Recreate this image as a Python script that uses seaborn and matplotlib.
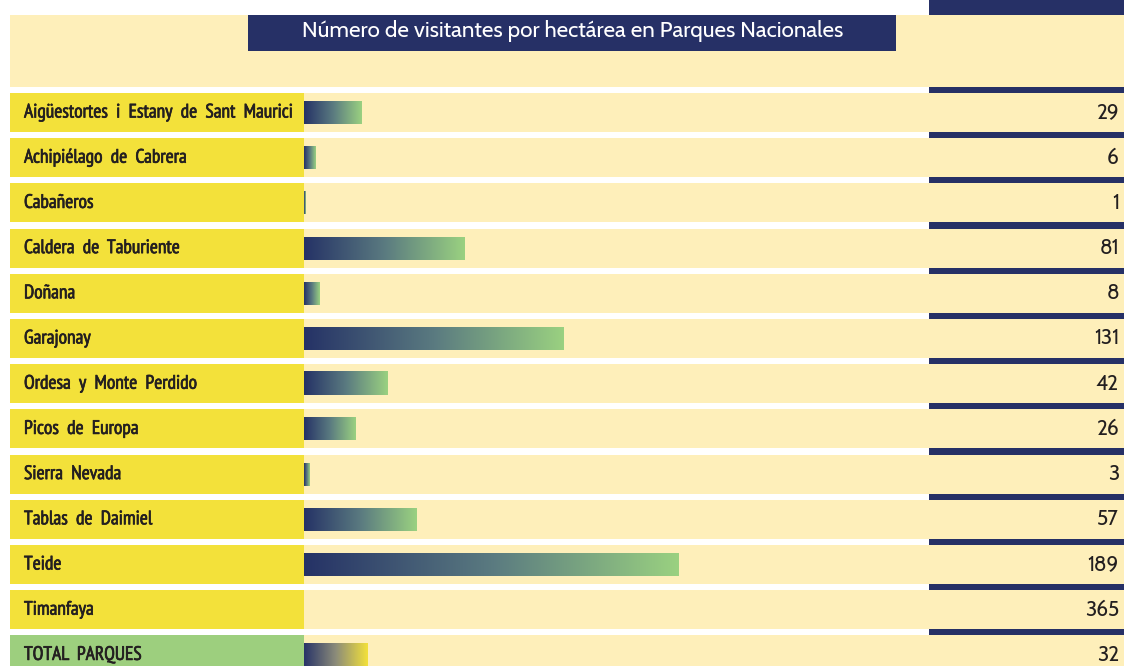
import numpy as np
import pandas as pd
import matplotlib
matplotlib.use("Agg")
import matplotlib.pyplot as plt
import matplotlib.patheffects as pe
import seaborn as sns
from matplotlib.colors import LinearSegmentedColormap
from matplotlib.patches import Rectangle
from matplotlib import font_manager

# ---- data ----
parques = [
    "Aigüestortes i Estany de Sant Maurici",
    "Achipiélago de Cabrera",
    "Cabañeros",
    "Caldera de Taburiente",
    "Doñana",
    "Garajonay",
    "Ordesa y Monte Perdido",
    "Picos de Europa",
    "Sierra Nevada",
    "Tablas de Daimiel",
    "Teide",
    "Timanfaya",
    "TOTAL PARQUES",
]
visitantes_ha = [29, 6, 1, 81, 8, 131, 42, 26, 3, 57, 189, 365, 32]
con_barra = [True] * 11 + [False, True]
titulo = "Número de visitantes por hectárea en Parques Nacionales"

# ---- styling ----
CREMA = "#FEEFBA"
AMARILLO = "#F3E13A"
VERDE_TOTAL = "#9DCF7E"
AZUL = "#263066"
TEXTO = "#231F20"
grad_parque = LinearSegmentedColormap.from_list("parque", ["#253266", "#5A7A80", "#9AD181"])
grad_total = LinearSegmentedColormap.from_list("total", ["#283468", "#8C8C7A", "#F3E13A"])

sns.set_style("white")
names = {f.name for f in font_manager.fontManager.ttflist}


def pick(*cands):
    for c in cands:
        if c in names:
            return c
    return "DejaVu Sans"


label_family = pick("PT Sans Narrow", "Cabin Condensed", "Liberation Sans Narrow")
num_family = pick("Cabin", "Lato")
plt.rcParams["font.family"] = [num_family, "DejaVu Sans"]

W, H = 1124, 666
fig = plt.figure(figsize=(W / 100, H / 100), dpi=100)
fig.patch.set_facecolor("white")
ax = fig.add_axes([0, 0, 1, 1])

# layout: bars start at pixel 304, ~2 px per visitor/ha; rows every 45.2 px
X0, SX = 304.0, 1.98
ROW0, PITCH = 112.5, 45.2


def X(px):
    return (px - X0) / SX


def Y(py):
    return (py - ROW0) / PITCH


df = pd.DataFrame({
    "parque": parques,
    "valor": visitantes_ha,
    "barra": [v if b else np.nan for v, b in zip(visitantes_ha, con_barra)],
})

sns.barplot(data=df, x="barra", y="parque", order=parques, orient="h",
            width=23 / PITCH, color=AZUL, errorbar=None, ax=ax, zorder=3)


def rect(x0, x1, y0, y1, color, z):
    ax.add_patch(Rectangle((X(x0), Y(y0)), X(x1) - X(x0), Y(y1) - Y(y0),
                           facecolor=color, edgecolor="none", zorder=z))


# navy strip on the right, cream header with the title box
rect(929, W, 0, H, AZUL, 0)
rect(10, W, 15, 87, CREMA, 1)
rect(248, 896, 15, 51, AZUL, 2)
ax.text(X(572.5), Y(37), titulo, color="white", fontsize=16.1,
        ha="center", va="baseline", family=[num_family, "DejaVu Sans"], zorder=4)

# row bands, label boxes, names and values
half = 19.5 / PITCH
grueso = [pe.withStroke(linewidth=0.5, foreground=TEXTO)]
for i, nombre in enumerate(parques):
    ax.add_patch(Rectangle((X(10), i - half), X(W) - X(10), 2 * half,
                           facecolor=CREMA, edgecolor="none", zorder=1))
    caja = VERDE_TOTAL if nombre == "TOTAL PARQUES" else AMARILLO
    ax.add_patch(Rectangle((X(10), i - half), X(304) - X(10), 2 * half,
                           facecolor=caja, edgecolor="none", zorder=2))
    ax.text(X(24), i + 5 / PITCH, nombre.replace(" ", "  "), color=TEXTO,
            fontsize=14, ha="left", va="baseline", path_effects=grueso,
            family=[label_family, "DejaVu Sans"], zorder=4)
    ax.text(X(1119), i + 6 / PITCH, f"{visitantes_ha[i]}", color=TEXTO, fontsize=15,
            ha="right", va="baseline", family=[num_family, "DejaVu Sans"], zorder=4)

# horizontal gradient fill for each bar
gradient = np.linspace(0, 1, 256).reshape(1, -1)
for patch in list(ax.patches):
    if patch.get_zorder() != 3:
        continue
    x0, y0 = patch.get_x(), patch.get_y()
    w, h = patch.get_width(), patch.get_height()
    if not np.isfinite(w) or w <= 0:
        continue
    fila = int(round(y0 + h / 2))
    cmap = grad_total if parques[fila] == "TOTAL PARQUES" else grad_parque
    patch.set_visible(False)
    ax.imshow(gradient, cmap=cmap, aspect="auto", interpolation="bilinear",
              extent=(x0, x0 + w, y0 + h, y0), zorder=3)

ax.set_xlim(X(0), X(W))
ax.set_ylim(Y(H), Y(0))
ax.axis("off")

fig.savefig("out.png", dpi=100, facecolor="white")
